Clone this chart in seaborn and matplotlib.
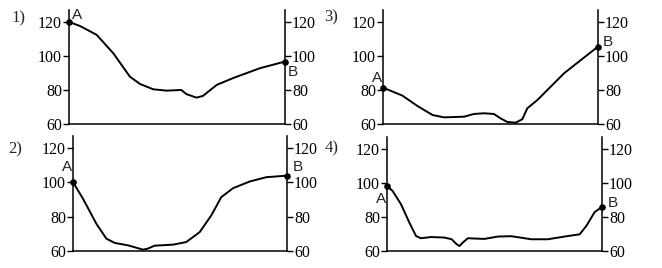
import numpy as np
import pandas as pd
import matplotlib
matplotlib.use("Agg")
import matplotlib.pyplot as plt
import seaborn as sns

sns.set_style("ticks")
plt.rcParams['font.family'] = ['Liberation Serif', 'DejaVu Serif']

# Panel 1
x1 = [0, 5.1, 12.8, 20.5, 28.2, 32.9, 39, 45.2, 52, 54.3, 59, 62, 68.4, 76, 88.4, 100]
y1 = [120, 117.6, 112.4, 101.6, 87.8, 83.5, 80.4, 79.6, 80, 77.6, 75.5, 76.5, 83, 87, 92.8, 96.7]
# Panel 2
x2 = [0, 4.7, 10.9, 15.6, 19.5, 25.7, 29.6, 32.7, 35, 38.1, 46.7, 52.9, 59.2, 64.6, 69.3, 74.8, 82.6, 90.3, 100]
y2 = [100.1, 90.4, 75.9, 67.2, 64.7, 63.3, 61.9, 60.8, 61.4, 63.1, 63.7, 65.2, 71, 80.7, 91.4, 96.6, 100.5, 103, 103.9]
# Panel 3
x3 = [0, 9, 16, 23, 28.4, 37.7, 42.3, 47, 51.6, 54.7, 57.8, 61.7, 64.8, 67.1, 71.8, 84.2, 100]
y3 = [81.4, 76.7, 70.6, 65.3, 63.9, 64.3, 65.9, 66.3, 65.9, 63.3, 61.2, 60.8, 62.8, 69.2, 74.1, 89.8, 105.5]
# Panel 4
x4 = [0, 2.6, 6.5, 10.4, 13.5, 15.8, 20.5, 26.7, 30.1, 32.1, 33.7, 35.2, 37.6, 45.3, 51.6, 57.8, 67.1, 74.8, 82.6, 89.6, 92.7, 96.6, 100]
y4 = [98.2, 95.3, 87.5, 76.7, 68.8, 67.5, 68.2, 67.9, 66.9, 64.3, 62.9, 64.9, 67.5, 67.1, 68.5, 68.7, 66.9, 66.9, 68.5, 69.8, 74.7, 82.9, 85.9]

yticks = [60, 80, 100, 120]
panel_labels = ["1)", "2)", "3)", "4)"]

W, H = 662, 268
fig = plt.figure(figsize=(W / 100, H / 100), dpi=100)

# (left px, right px, top px, bottom px) for each panel
boxes = {
    "1)": (69, 285, 10, 124),
    "3)": (383, 598, 10, 124),
    "2)": (73, 287, 136, 251),
    "4)": (387, 602, 137, 251),
}
data = {"1)": (x1, y1), "2)": (x2, y2), "3)": (x3, y3), "4)": (x4, y4)}
# text offsets (pixels) for A and B labels
offsA = {"1)": (3, 7, 'left', 'center'), "3)": (-1, 10, 'right', 'center'),
         "2)": (-1, 15, 'right', 'center'), "4)": (-1, -13, 'right', 'center')}
offsB = {"1)": (3, -10, 'left', 'center'), "3)": (5, 5, 'left', 'center'),
         "2)": (6, 9, 'left', 'center'), "4)": (6, 4, 'left', 'center')}
label_pos = {"1)": (11, 18), "3)": (324, 17), "2)": (8, 149), "4)": (325, 148)}

for lab in panel_labels:
    l, r, t, b = boxes[lab]
    ax = fig.add_axes([l / W, 1 - b / H, (r - l) / W, (b - t) / H])
    xs, ys = data[lab]
    df = pd.DataFrame({"d": xs, "h": ys})
    sns.lineplot(data=df, x="d", y="h", ax=ax, color="black", linewidth=1.4)
    ax.scatter([xs[0], xs[-1]], [ys[0], ys[-1]], s=14, color="black", zorder=5, clip_on=False)
    ax.set_xlim(0, 100)
    ax.set_ylim(60, 127)
    ax.set_xlabel("")
    ax.set_ylabel("")
    ax.set_xticks([])
    ax.set_yticks(yticks)
    ax.tick_params(axis='y', which='both', left=True, right=True, labelleft=True,
                   labelright=True, direction='out', length=4, width=1.0,
                   labelsize=11.5, pad=1, colors='black')
    ax.spines['top'].set_visible(False)
    for s in ['left', 'right', 'bottom']:
        ax.spines[s].set_visible(True)
        ax.spines[s].set_linewidth(1.1)
        ax.spines[s].set_color('black')
    ax.set_facecolor('none')

    ox, oy, ha, va = offsA[lab]
    ax.annotate("A", (xs[0], ys[0]), xytext=(ox, oy), textcoords='offset pixels',
                ha=ha, va=va, fontsize=11, family=['Liberation Sans', 'DejaVu Sans'])
    ox, oy, ha, va = offsB[lab]
    ax.annotate("B", (xs[-1], ys[-1]), xytext=(ox, oy), textcoords='offset pixels',
                ha=ha, va=va, fontsize=11, family=['Liberation Sans', 'DejaVu Sans'])

    px, py = label_pos[lab]
    fig.text(px / W, 1 - py / H, lab, ha='left', va='center', fontsize=12)

fig.savefig("out.png", dpi=100)
